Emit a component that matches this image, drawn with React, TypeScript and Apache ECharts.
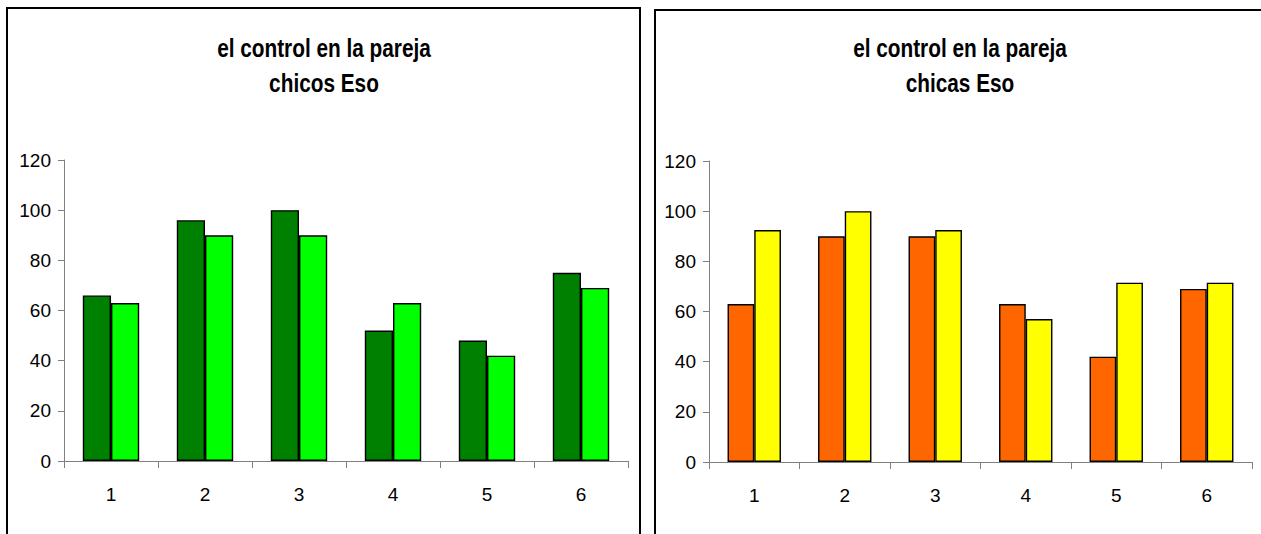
import React, { useEffect, useRef } from "react";
import * as echarts from "echarts";

const categories = ["1", "2", "3", "4", "5", "6"];
const yTicks = [0, 20, 40, 60, 80, 100, 120];
const chicosA = [66, 96, 100, 52, 48, 75];
const chicosB = [63, 90, 90, 63, 42, 69];
const chicasA = [63, 90, 90, 63, 42, 69];
const chicasB = [92.5, 100, 92.5, 57, 71.5, 71.5];
const titleLine1 = "el control en la pareja";
const titleLeft2 = "chicos Eso";
const titleRight2 = "chicas Eso";

const FONT = "'Liberation Sans Narrow', 'Arial Narrow', 'Liberation Sans', Arial, sans-serif";
const AXIS_COLOR = "#808080";

export default function App() {
  const ref = useRef<HTMLDivElement>(null);
  useEffect(() => {
    if (!ref.current) return;
    const chart = echarts.init(ref.current, undefined, { renderer: "svg" });
    const xAxis = (gridIndex: number) => ({
      type: "category",
      gridIndex,
      data: categories,
      axisLine: { lineStyle: { color: AXIS_COLOR, width: 1 } },
      axisTick: { show: true, length: 7, lineStyle: { color: AXIS_COLOR } },
      axisLabel: { color: "#000", fontFamily: FONT, fontSize: 19, margin: 24 },
      splitLine: { show: false },
    });
    const yAxis = (gridIndex: number) => ({
      type: "value",
      gridIndex,
      min: yTicks[0],
      max: yTicks[yTicks.length - 1],
      interval: yTicks[1] - yTicks[0],
      axisLine: { show: true, lineStyle: { color: AXIS_COLOR, width: 1 } },
      axisTick: { show: true, length: 6, lineStyle: { color: AXIS_COLOR } },
      axisLabel: { color: "#000", fontFamily: FONT, fontSize: 19, margin: 13 },
      splitLine: { show: false },
    });
    const bar = (data: number[], color: string, xi: number, gap: string) => ({
      type: "bar",
      xAxisIndex: xi,
      yAxisIndex: xi,
      data,
      barGap: "0%",
      barCategoryGap: gap,
      itemStyle: { color, borderColor: "#000", borderWidth: 1.4 },
    });
    const title = (x: number, text: string) => ({
      type: "text",
      x,
      y: 31,
      scaleX: 0.8,
      style: {
        text,
        fontFamily: FONT,
        fontSize: 26,
        fontWeight: "bold",
        lineHeight: 35,
        fill: "#000",
        align: "center",
        verticalAlign: "top",
      },
    });
    chart.setOption({
      animation: false,
      backgroundColor: "#fff",
      grid: [
        { left: 64, top: 160, width: 564, height: 301 },
        { left: 709, top: 161, width: 543, height: 301 },
      ],
      xAxis: [xAxis(0), xAxis(1)],
      yAxis: [yAxis(0), yAxis(1)],
      series: [
        bar(chicosA, "#008000", 0, "40%"),
        bar(chicosB, "#00FF00", 0, "40%"),
        bar(chicasA, "#FF6600", 1, "41%"),
        bar(chicasB, "#FFFF00", 1, "41%"),
      ],
      graphic: [
        {
          type: "rect",
          shape: { x: 7, y: 8, width: 633, height: 600 },
          style: { fill: "none", stroke: "#000", lineWidth: 2 },
          silent: true,
        },
        {
          type: "rect",
          shape: { x: 655, y: 10, width: 700, height: 600 },
          style: { fill: "none", stroke: "#000", lineWidth: 2 },
          silent: true,
        },
        title(324, titleLine1 + "\n" + titleLeft2),
        title(960, titleLine1 + "\n" + titleRight2),
      ],
    });
    return () => chart.dispose();
  }, []);
  return (
    <div
      ref={ref}
      style={{ position: "fixed", left: 0, top: 0, width: 1261, height: 534 }}
    />
  );
}
